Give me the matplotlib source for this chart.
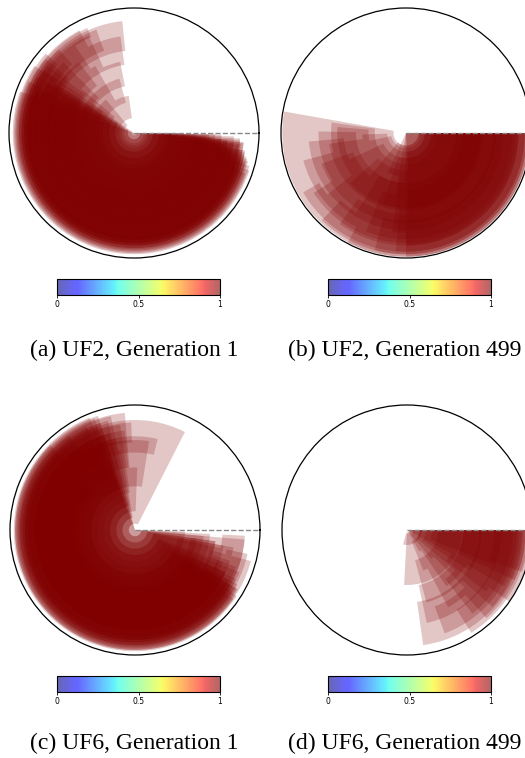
import numpy as np
import matplotlib
matplotlib.use("Agg")
import matplotlib.pyplot as plt
from matplotlib import cm, colors

# Wedges: clockwise degrees from east (start, end), radial band (r_in, r_out)
a_start = [0, 0, 1, 0, 2, 1, 3, 2, 4, 3, 5, 2, 6, 4, 7, 5, 8, 6, 9, 7, 10, 12, 9, 14, 11, 16, 13, 18, 20, 15, 1, 2, 3, 5, 1, 4]
a_end = [200, 215, 205, 230, 262, 210, 220, 255, 208, 240, 212, 259, 225, 203, 232, 218, 262, 245, 210, 236, 264, 220, 250, 206, 228, 214, 242, 200, 222, 246, 200, 210, 205, 215, 208, 212]
a_rin = [0.00, 0.02, 0.05, 0.08, 0.12, 0.15, 0.20, 0.25, 0.28, 0.30, 0.35, 0.38, 0.40, 0.45, 0.48, 0.50, 0.55, 0.58, 0.60, 0.62, 0.66, 0.68, 0.70, 0.72, 0.74, 0.76, 0.78, 0.80, 0.82, 0.84, 0.00, 0.10, 0.20, 0.30, 0.05, 0.15]
a_rout = [0.30, 0.40, 0.50, 0.35, 0.30, 0.60, 0.55, 0.45, 0.70, 0.62, 0.75, 0.58, 0.80, 0.85, 0.72, 0.88, 0.78, 0.86, 0.90, 0.84, 0.90, 0.92, 0.88, 0.94, 0.90, 0.96, 0.93, 0.97, 0.95, 0.92, 0.70, 0.80, 0.85, 0.88, 0.65, 0.75]

b_start = [0] * 32
b_end = [190, 188, 181, 185, 178, 175, 172, 168, 165, 160, 155, 150, 147, 142, 138, 134, 130, 126, 122, 118, 115, 112, 108, 105, 100, 98, 95, 92, 90, 90, 88, 86]
b_rin = [0.10, 0.25, 0.40, 0.30, 0.15, 0.50, 0.35, 0.12, 0.60, 0.45, 0.20, 0.80, 0.70, 0.55, 0.30, 0.75, 0.10, 0.65, 0.40, 0.85, 0.00, 0.50, 0.20, 0.70, 0.00, 0.35, 0.60, 0.00, 0.45, 0.80, 0.15, 0.00]
b_rout = [0.99, 0.60, 0.70, 0.55, 0.35, 0.78, 0.62, 0.30, 0.85, 0.72, 0.50, 0.95, 0.88, 0.80, 0.60, 0.97, 0.45, 0.90, 0.75, 0.99, 0.35, 0.85, 0.60, 0.97, 0.50, 0.80, 0.95, 0.40, 0.90, 0.99, 0.65, 0.30]

c_start = [2, 5, 8, 12, 20, 25, 28, 30, 26, 32, 30, 35, 33, 28, 3, 10, 22, 30, 5, 15, 10, 8, 20, 25, 3, 12, 18, 8, 15]
c_end = [255, 250, 260, 248, 258, 252, 262, 250, 256, 245, 265, 252, 248, 258, 250, 255, 252, 250, 297, 284, 279, 272, 268, 264, 230, 235, 240, 220, 225]
c_rin = [0.00, 0.05, 0.10, 0.15, 0.20, 0.25, 0.30, 0.35, 0.40, 0.45, 0.50, 0.55, 0.60, 0.65, 0.00, 0.10, 0.20, 0.40, 0.05, 0.62, 0.35, 0.15, 0.70, 0.50, 0.70, 0.75, 0.65, 0.45, 0.80]
c_rout = [0.40, 0.55, 0.65, 0.70, 0.75, 0.80, 0.85, 0.88, 0.90, 0.92, 0.94, 0.96, 0.97, 0.93, 0.60, 0.80, 0.90, 0.95, 0.88, 0.75, 0.72, 0.50, 0.86, 0.80, 0.88, 0.92, 0.80, 0.65, 0.96]

d_start = [0] * 25
d_end = [93, 82, 78, 75, 70, 68, 62, 58, 55, 52, 50, 48, 45, 42, 40, 38, 35, 33, 30, 28, 25, 22, 20, 60, 105]
d_rin = [0.03, 0.58, 0.45, 0.25, 0.65, 0.10, 0.35, 0.75, 0.20, 0.50, 0.05, 0.70, 0.30, 0.60, 0.10, 0.40, 0.80, 0.15, 0.55, 0.00, 0.45, 0.20, 0.70, 0.02, 0.02]
d_rout = [0.44, 0.93, 0.76, 0.60, 0.88, 0.35, 0.70, 0.97, 0.55, 0.85, 0.30, 0.95, 0.65, 0.92, 0.50, 0.80, 1.00, 0.60, 0.90, 0.40, 0.95, 0.75, 0.98, 0.20, 0.12]

captions = ["(a) UF2, Generation 1", "(b) UF2, Generation 499",
            "(c) UF6, Generation 1", "(d) UF6, Generation 499"]
cbar_ticks = [0, 0.5, 1]
cbar_labels = ["0", "0.5", "1"]

W, H = 525, 758
fig = plt.figure(figsize=(W / 100, H / 100), dpi=100)

panels = [
    (a_start, a_end, a_rin, a_rout, 134, 133),
    (b_start, b_end, b_rin, b_rout, 406, 133),
    (c_start, c_end, c_rin, c_rout, 135, 530),
    (d_start, d_end, d_rin, d_rout, 407, 530),
]
R = 125
wedge_color = cm.jet(1.0)

for (st, en, ri, ro, cx, cy) in panels:
    ax = fig.add_axes([(cx - R) / W, (H - (cy + R)) / H, 2 * R / W, 2 * R / H],
                      projection="polar")
    ax.set_theta_zero_location("E")
    ax.set_theta_direction(-1)
    st = np.array(st, float); en = np.array(en, float)
    ri = np.array(ri); ro = np.array(ro)
    ax.bar(np.deg2rad(st), ro - ri, width=np.deg2rad(en - st), bottom=ri,
           align="edge", color=wedge_color, alpha=0.22, linewidth=0)
    ax.plot([0, 0], [0, 1], ls="--", color="#888888", lw=1.0)
    ax.set_ylim(0, 1)
    ax.set_xticks([]); ax.set_yticks([])
    ax.grid(False)
    ax.spines["polar"].set_linewidth(0.9)
    ax.spines["polar"].set_color("black")

norm = colors.Normalize(0, 1)
sm = cm.ScalarMappable(norm=norm, cmap="jet")
cbar_pos = [(57, 279), (328, 279), (57, 676), (328, 676)]
for (x0, y0) in cbar_pos:
    cax = fig.add_axes([x0 / W, (H - (y0 + 16)) / H, 163 / W, 16 / H])
    cb = fig.colorbar(sm, cax=cax, orientation="horizontal", alpha=0.6)
    cb.set_ticks(cbar_ticks)
    cb.set_ticklabels(cbar_labels)
    cb.ax.tick_params(labelsize=5.5, length=2, width=0.6, pad=1.5)
    cb.outline.set_linewidth(0.8)

cap_pos = [(134, 350), (405, 350), (134, 743), (405, 743)]
for txt, (x, y) in zip(captions, cap_pos):
    fig.text(x / W, (H - y) / H, txt, ha="center", va="center",
             fontsize=17, family="Liberation Serif")

fig.savefig("out.png", dpi=100)
